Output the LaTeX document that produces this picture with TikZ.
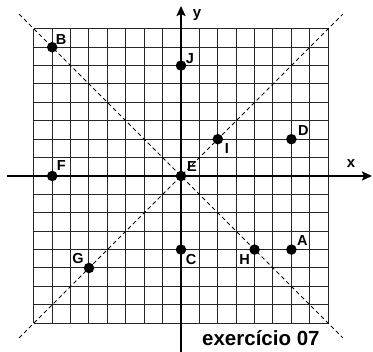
\documentclass[tikz,border=0pt]{standalone}
\usepackage{fontspec}
\setmainfont{Liberation Sans}
\usetikzlibrary{arrows.meta}
\begin{document}
\begin{tikzpicture}[x=18.4pt,y=18.4pt,
  gridline/.style={line width=1pt, draw=black!85},
  axis/.style={line width=2.6pt, -{Stealth[length=10pt,width=9pt,inset=2pt]}},
  diag/.style={line width=0.8pt, dash pattern=on 4pt off 3pt},
  dot/.style={circle, fill=black, inner sep=0pt, minimum size=10.5pt},
  lbl/.style={font=\bfseries\fontsize{14.5}{14.5}\selectfont, inner sep=0pt},
  axlbl/.style={font=\bfseries\fontsize{15}{15}\selectfont, inner sep=0pt}]
\useasboundingbox (-181pt,-176pt) rectangle (192pt,176pt);
\fill[white] (-181pt,-176pt) rectangle (192pt,176pt);
\draw[gridline, step=1] (-8,-8) grid (8,8);
\coordinate (d1s) at (-8.8,8.8);
\coordinate (d1e) at (8.8,-8.8);
\coordinate (d2s) at (-8.8,-8.8);
\coordinate (d2e) at (8.8,8.8);
\draw[diag] (d1s) -- (d1e);
\draw[diag] (d2s) -- (d2e);
\coordinate (xs) at (-174pt,0);
\coordinate (xe) at (191pt,0);
\coordinate (ys) at (0,-176pt);
\coordinate (ye) at (0,170pt);
\draw[axis] (xs) -- (xe);
\draw[axis] (ys) -- (ye);
\node[axlbl] (xl) at (170pt,12pt) {x};
\node[axlbl] (yl) at (16pt,161pt) {y};
\node[dot] (A) at (6,-4) {};
\node[dot] (B) at (-7,7) {};
\node[dot] (C) at (0,-4) {};
\node[dot] (D) at (6,2) {};
\node[dot] (E) at (0,0) {};
\node[dot] (F) at (-7,0) {};
\node[dot] (G) at (-5,-5) {};
\node[dot] (H) at (4,-4) {};
\node[dot] (I) at (2,2) {};
\node[dot] (J) at (0,6) {};
\node[lbl] (lA) at ([shift={(11pt,9pt)}]A.center) {A};
\node[lbl] (lB) at ([shift={(9pt,8pt)}]B.center) {B};
\node[lbl] (lC) at ([shift={(10pt,-10pt)}]C.center) {C};
\node[lbl] (lD) at ([shift={(12pt,8.5pt)}]D.center) {D};
\node[lbl] (lE) at ([shift={(11pt,9pt)}]E.center) {E};
\node[lbl] (lF) at ([shift={(9pt,10pt)}]F.center) {F};
\node[lbl] (lG) at ([shift={(-11pt,9pt)}]G.center) {G};
\node[lbl] (lH) at ([shift={(-10pt,-10pt)}]H.center) {H};
\node[lbl] (lI) at ([shift={(9pt,-9pt)}]I.center) {I};
\node[lbl] (lJ) at ([shift={(9pt,7pt)}]J.center) {J};
\node[font=\bfseries\fontsize{20.5}{20.5}\selectfont, inner sep=0pt, anchor=base west] (title) at (21pt,-170pt) {exercício 07};
\end{tikzpicture}
\end{document}
